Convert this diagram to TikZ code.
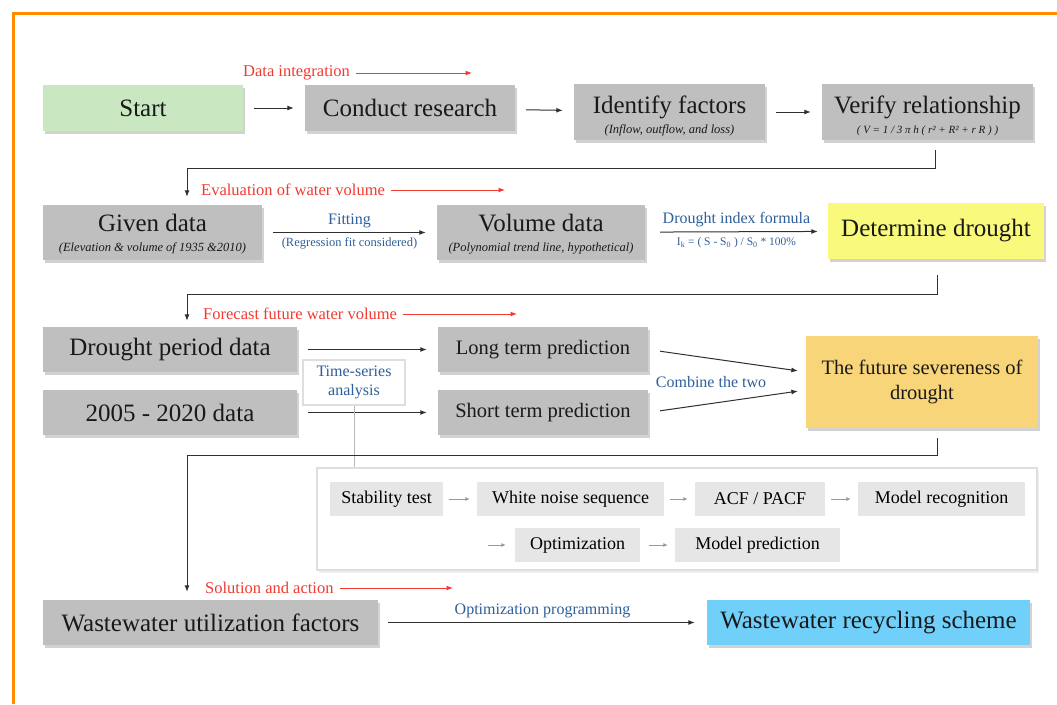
\documentclass[tikz,border=0pt]{standalone}
\usepackage{fontspec}
\setmainfont{Liberation Serif}
\usetikzlibrary{shadows,arrows.meta,calc}
\definecolor{boxgray}{HTML}{BFBFBF}
\definecolor{startgreen}{HTML}{C9E7C1}
\definecolor{detyellow}{HTML}{F9F97C}
\definecolor{futorange}{HTML}{F9D57A}
\definecolor{recblue}{HTML}{70D0FA}
\definecolor{labred}{HTML}{F23A32}
\definecolor{labblue}{HTML}{2F5F9A}
\definecolor{innergray}{HTML}{E6E6E6}
\definecolor{framec}{HTML}{FF8C00}
\definecolor{connc}{HTML}{303030}
\newcommand{\subf}{\fontsize{12.5}{14}\selectfont\itshape}
\newcommand{\formf}{\fontsize{11}{13}\selectfont\itshape}
\newcommand{\topstrut}[1]{\rule{0pt}{#1}}
\tikzset{
  sz/.style 2 args={minimum width=#1pt, minimum height=#2pt},
  box/.style={inner sep=0pt, align=center, text=black!90,
    font=\fontsize{25}{27}\selectfont,
    drop shadow={opacity=0.35, shadow xshift=2pt, shadow yshift=-3pt}},
  gbox/.style={box, fill=boxgray},
  midbox/.style={gbox, font=\fontsize{20.5}{22}\selectfont},
  innerbox/.style={inner sep=0pt, fill=innergray, font=\fontsize{18}{20}\selectfont},
  conn/.style={draw=connc, line width=1pt, -{Latex[length=6.5pt,width=5pt]}},
  hconn/.style={conn, shorten <=11pt, shorten >=11pt},
  redlbl/.style={text=labred, font=\fontsize{16.5}{18}\selectfont, inner sep=0pt},
  redarr/.style={draw=labred, line width=1pt, -{Latex[length=6.5pt,width=5pt]}, shorten <=6pt},
  bluelbl/.style={text=labblue, font=\fontsize{16}{18}\selectfont},
  bluesmall/.style={text=labblue, font=\fontsize{12.5}{14}\selectfont},
  smallarr/.style={draw=black!40, line width=0.9pt, -{Latex[length=4.5pt,width=4pt]}, shorten <=6pt, shorten >=7pt},
}
\begin{document}
\begin{tikzpicture}[x=1pt,y=-1pt]
\useasboundingbox (0,0) rectangle (1057,704);
\fill[white] (0,0) rectangle (1057,704);
\draw[framec, line width=3pt] (13,704) -- (13,13) -- (1057,13);

% row 1
\node[gbox, fill=startgreen, sz={200}{46}] (start) at (143,108) {Start};
\node[gbox, sz={210}{46}] (research) at (410,108) {Conduct research};
\node[gbox, sz={191}{56}] (identify) at (669.5,112) {\topstrut{25pt}Identify factors\\[-7pt]{\subf (Inflow, outflow, and loss)}};
\node[gbox, sz={211}{56}] (verify) at (927.5,112) {\topstrut{25pt}Verify relationship\\[-7pt]{\formf ( V = 1 / 3 π h ( r² + R² + r R ) )}};
\draw[hconn] (start) -- (research);
\draw[hconn] (research) -- (identify);
\draw[hconn] (identify) -- (verify);
\node[redlbl, anchor=west] (lab1) at (243,73) {Data integration};
\coordinate (r1) at (472,73);
\draw[redarr] (lab1.east) -- (r1);

% row 2
\node[gbox, sz={219}{55}] (given) at (152.5,232.5) {\topstrut{21pt}Given data\\[-7pt]{\subf (Elevation \& volume of 1935 \&2010)}};
\node[gbox, sz={208}{55}] (volume) at (541,232.5) {\topstrut{21pt}Volume data\\[-7pt]{\subf (Polynomial trend line, hypothetical)}};
\node[gbox, fill=detyellow, sz={216}{56}] (determine) at (936,231) {Determine drought};
\draw[hconn] (given) -- node[bluelbl, above=1pt] {Fitting} node[bluesmall, below=1pt] {(Regression fit considered)} (volume);
\draw[conn, shorten <=15pt, shorten >=10pt] (volume) -- node[bluelbl, above=1pt] {Drought index formula} node[bluesmall, below=2pt, font=\fontsize{11.5}{13}\selectfont] {I\textsubscript{k} = ( S - S\textsubscript{0} ) / S\textsubscript{0} * 100\%} (determine);
\coordinate (k1) at (935,168);
\coordinate (k2) at (187,168);
\draw[conn, shorten >=8pt] ([xshift=7.5pt,yshift=-10pt]verify.south) -- (k1) -- (k2) -- (given.north -| k2);
\node[redlbl, anchor=west] (lab2) at (201,190) {Evaluation of water volume};
\coordinate (r2) at (505,190);
\draw[redarr] (lab2.east) -- (r2);

% row 3
\node[gbox, sz={254}{45}] (droughtp) at (170,349.5) {Drought period data};
\node[gbox, sz={254}{45}] (d0520) at (170,412.5) {2005 - 2020 data};
\node[midbox, sz={210}{45}] (longt) at (543,349.5) {Long term prediction};
\node[midbox, sz={210}{45}] (shortt) at (543,412.5) {Short term prediction};
\node[gbox, fill=futorange, sz={232}{92}, font=\fontsize{20.5}{25}\selectfont] (future) at (922,382) {The future severeness of\\drought};
\node[inner sep=0pt, fill=white, draw=black!13, line width=1.5pt, sz={102}{45}, align=center, text=labblue, font=\fontsize{16}{19}\selectfont] (tsa) at (354,382.5) {Time-series\\analysis};
\draw[hconn] (droughtp) -- (longt);
\draw[hconn] (d0520) -- (shortt);
\draw[conn, shorten <=12pt, shorten >=8pt] (longt.east) -- ([yshift=10pt]future.west);
\draw[conn, shorten <=12pt, shorten >=8pt] (shortt.east) -- ([yshift=-8pt]future.west);
\node[bluelbl, inner sep=0pt] (combine) at (711,382) {Combine the two};
\coordinate (k3) at (937,294);
\coordinate (k4) at (187,294);
\draw[conn, shorten >=6pt] ([xshift=1pt,yshift=-16pt]determine.south) -- (k3) -- (k4) -- (droughtp.north -| k4);
\node[redlbl, anchor=west] (lab3) at (203,314) {Forecast future water volume};
\coordinate (r3) at (517,314);
\draw[redarr] (lab3.east) -- (r3);

% time series box
\node[fill=white, draw=black!13, line width=1.5pt, sz={720}{102}, inner sep=0pt,
  drop shadow={opacity=0.12, shadow xshift=2pt, shadow yshift=-3pt}] (bigbox) at (677,519) {};
\draw[black!28, line width=1pt] (tsa.south) -- (tsa.south |- bigbox.north);
\node[innerbox, sz={113}{34}] (stab) at (386.5,499) {Stability test};
\node[innerbox, sz={187}{34}] (white) at (570.5,499) {White noise sequence};
\node[innerbox, sz={130}{34}] (acf) at (760,499) {ACF / PACF};
\node[innerbox, sz={167}{34}] (modrec) at (941.5,499) {Model recognition};
\node[innerbox, sz={125}{34}] (optim) at (577.5,545) {Optimization};
\node[innerbox, sz={165}{34}] (modpred) at (757.5,545) {Model prediction};
\coordinate (o0) at (482,545);
\draw[smallarr] (stab) -- (white);
\draw[smallarr] (white) -- (acf);
\draw[smallarr] (acf) -- (modrec);
\draw[smallarr, shorten >=9pt] (o0) -- (optim);
\draw[smallarr, shorten <=9pt] (optim) -- (modpred);

% row 4
\node[gbox, sz={335}{45}] (wwu) at (210.5,622.5) {Wastewater utilization factors};
\node[gbox, fill=recblue, sz={323}{45}] (wwr) at (868.5,622.5) {Wastewater recycling scheme};
\coordinate (k5) at (937,455);
\coordinate (k6) at (187,455);
\draw[conn, shorten >=8pt] ([xshift=15pt,yshift=-10pt]future.south) -- (k5) -- (k6) -- (wwu.north -| k6);
\draw[conn, shorten <=10pt, shorten >=12pt] (wwu) -- node[bluelbl, above=1pt] {Optimization programming} (wwr);
\node[redlbl, anchor=west] (lab4) at (205,588) {Solution and action};
\coordinate (r4) at (453,588);
\draw[redarr] (lab4.east) -- (r4);
\end{tikzpicture}
\end{document}
